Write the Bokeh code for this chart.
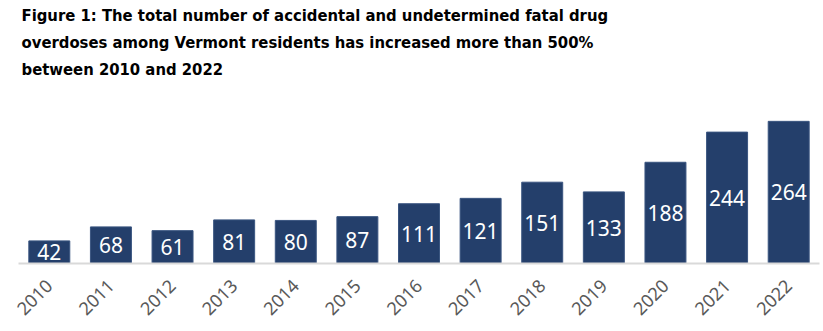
import math
from bokeh.plotting import figure
from bokeh.models import ColumnDataSource, LabelSet, Title
from bokeh.core.properties import value
from bokeh.embed import file_html
from bokeh.resources import INLINE

years = ["2010", "2011", "2012", "2013", "2014", "2015", "2016",
         "2017", "2018", "2019", "2020", "2021", "2022"]
deaths = [42, 68, 61, 81, 80, 87, 111, 121, 151, 133, 188, 244, 264]

title_lines = [
    "Figure 1: The total number of accidental and undetermined fatal drug",
    "overdoses among Vermont residents has increased more than 500%",
    "between 2010 and 2022",
]

src = ColumnDataSource(dict(year=years, n=deaths, mid=[v / 2 for v in deaths],
                            lbl=[str(v) for v in deaths]))

TITLE_FONT = "'DejaVu Sans Condensed', 'Liberation Sans Narrow', sans-serif"
TSIZE = "16.5px"

p = figure(x_range=years, y_range=(0, 338), width=823, height=331,
           output_backend="svg", toolbar_location=None,
           title=title_lines[0],
           min_border_left=18, min_border_right=4, min_border_top=12, min_border_bottom=68)

p.title.text_font = TITLE_FONT
p.title.text_font_size = TSIZE
p.title.text_font_style = "bold"
p.title.text_color = "black"
p.title.offset = 3
p.title.standoff = 6

for line in [title_lines[2], title_lines[1]]:
    p.add_layout(Title(text=line, text_font=TITLE_FONT, text_font_size=TSIZE,
                       text_font_style="bold", text_color="black", offset=3, standoff=6), "above")

p.vbar(x="year", top="n", width=0.665, source=src, fill_color="#243F6B",
       line_color="#3A5580", line_width=1)

labels = LabelSet(x="year", y="mid", text="lbl", source=src, text_color="white",
                  text_align="center", text_baseline="middle",
                  text_font=value("Noto Sans"), text_font_size=value("21px"))
p.add_layout(labels)

p.x_range.range_padding = 0
p.yaxis.visible = False
p.xgrid.visible = False
p.ygrid.visible = False
p.outline_line_color = None
p.xaxis.axis_line_color = "#D9D9D9"
p.xaxis.axis_line_width = 2
p.xaxis.major_tick_line_color = None
p.xaxis.minor_tick_line_color = None
p.xaxis.major_label_orientation = math.pi / 4
p.xaxis.major_label_text_font = "Noto Sans"
p.xaxis.major_label_text_font_size = "18px"
p.xaxis.major_label_text_color = "#595959"
p.xaxis.major_label_standoff = 13

open("out.html", "w").write(file_html(p, INLINE))
